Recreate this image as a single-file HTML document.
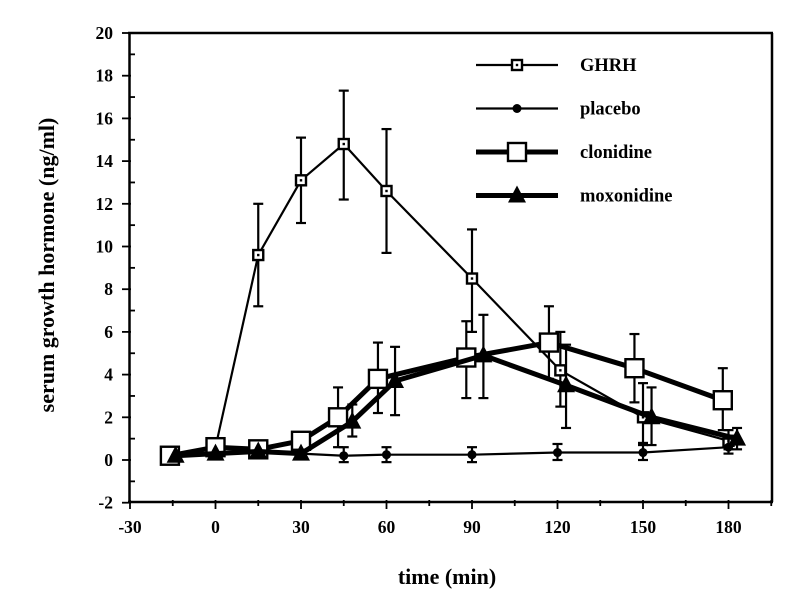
<!DOCTYPE html>
<html><head><meta charset="utf-8"><style>
html,body{margin:0;padding:0;background:#fff;}
svg{display:block;font-family:"Liberation Serif",serif;font-weight:bold;}
</style></head><body>
<svg id="s" width="796" height="608" viewBox="0 0 796 608" xmlns="http://www.w3.org/2000/svg">
<rect width="796" height="608" fill="#fff"/>
<g stroke="#000" stroke-width="2.5" fill="none">
<line x1="129.5" y1="33" x2="129.5" y2="502"/>
<line x1="128" y1="33" x2="773" y2="33"/>
<line x1="772" y1="33" x2="772" y2="502"/>
<line x1="128" y1="502" x2="773" y2="502"/>
</g>
<g id="ticks" stroke="#000" stroke-width="1.8"></g>
<g id="labels" font-size="17.5" fill="#000"></g>
<g id="series"></g>
<g id="legend"></g>
<text x="447" y="584" font-size="22" text-anchor="middle">time (min)</text>
<text transform="translate(54,265) rotate(-90)" font-size="22" text-anchor="middle">serum growth hormone (ng/ml)</text>
</svg>
<script>
var NS="http://www.w3.org/2000/svg";
function X(t){return 215.5+t*2.85;}
function Y(v){return 460-v*21.35;}
function el(p,n,a,txt){var e=document.createElementNS(NS,n);for(var k in a)e.setAttribute(k,a[k]);if(txt!=null)e.textContent=txt;p.appendChild(e);return e;}
var tk=document.getElementById('ticks'),lb=document.getElementById('labels');
for(var v=-2;v<=20;v+=1){var y=Y(v);
 if(v%2==0){el(tk,'line',{x1:122,y1:y,x2:131,y2:y});el(lb,'text',{x:113,y:y+6,'text-anchor':'end'},String(v));}
 else el(tk,'line',{x1:129,y1:y,x2:135,y2:y});}
for(var t=-30;t<=195;t+=15){var x=X(t);
 if(t%30==0){el(tk,'line',{x1:x,y1:500,x2:x,y2:509});el(lb,'text',{x:x,y:533,'text-anchor':'middle'},String(t));}
 else el(tk,'line',{x1:x,y1:500,x2:x,y2:506});}
var S=document.getElementById('series');
function series(d,lw,mk){
 var pts=d.map(function(p){return X(p[0])+','+Y(p[1]);}).join(' ');
 d.forEach(function(p){if(p[2]!=null){var x=X(p[0]);el(S,'line',{x1:x,y1:Y(p[2]),x2:x,y2:Y(p[3]),stroke:'#000','stroke-width':2.2});
  el(S,'line',{x1:x-5,y1:Y(p[2]),x2:x+5,y2:Y(p[2]),stroke:'#000','stroke-width':2.2});
  el(S,'line',{x1:x-5,y1:Y(p[3]),x2:x+5,y2:Y(p[3]),stroke:'#000','stroke-width':2.2});}});
 el(S,'polyline',{points:pts,fill:'none',stroke:'#000','stroke-width':lw,'stroke-linejoin':'round'});
 d.forEach(function(p){mk(S,X(p[0]),Y(p[1]));});
}
function smallSq(g,x,y){el(g,'rect',{x:x-5,y:y-5,width:10,height:10,fill:'#fff',stroke:'#000','stroke-width':2.4});el(g,'rect',{x:x-1.2,y:y-1.2,width:2.4,height:2.4,fill:'#000'});}
function dot(g,x,y){el(g,'circle',{cx:x,cy:y,r:4.5,fill:'#000'});}
function bigSq(g,x,y){el(g,'rect',{x:x-9,y:y-9,width:18,height:18,fill:'#fff',stroke:'#000','stroke-width':2.4});}
function tri(g,x,y){el(g,'polygon',{points:(x-9)+','+(y+7)+' '+(x+9)+','+(y+7)+' '+x+','+(y-10),fill:'#000'});}
series([[-15,0.2],[0,0.6],[15,9.6,7.2,12],[30,13.1,11.1,15.1],[45,14.8,12.2,17.3],[60,12.6,9.7,15.5],[90,8.5,6,10.8],[121,4.2,2.5,6],[150,2.0,0.8,3.6],[180,0.9,0.5,1.4]],2.2,smallSq);
series([[-15,0.2,-0.1,0.6],[0,0.3],[15,0.35],[30,0.3],[45,0.2,-0.1,0.6],[60,0.25,-0.1,0.6],[90,0.25,-0.1,0.6],[120,0.35,0,0.75],[150,0.35,0,0.7],[180,0.6,0.3,1.0]],2.2,dot);
series([[-16,0.2],[0,0.6],[15,0.5],[30,0.9,0.6,1.2],[43,2.0,0.6,3.4],[57,3.8,2.2,5.5],[88,4.8,2.9,6.5],[117,5.5,3.8,7.2],[147,4.3,2.7,5.9],[178,2.8,1.4,4.3]],5,bigSq);
series([[-14,0.2],[0,0.3],[15,0.4],[30,0.3],[48,1.8,1.1,2.6],[63,3.7,2.1,5.3],[94,4.9,2.9,6.8],[123,3.5,1.5,5.4],[153,2.0,0.7,3.4],[183,1.0,0.5,1.5]],5,tri);
var L=document.getElementById('legend');
var leg=[['GHRH',2.2,smallSq],['placebo',2.2,dot],['clonidine',5,bigSq],['moxonidine',5,tri]];
leg.forEach(function(l,i){var y=65+i*43.5;el(L,'line',{x1:476,y1:y,x2:558,y2:y,stroke:'#000','stroke-width':l[1]});l[2](L,517,y);
 el(L,'text',{x:580,y:y+6,'font-size':18.5},l[0]);});
</script>
</body></html>
